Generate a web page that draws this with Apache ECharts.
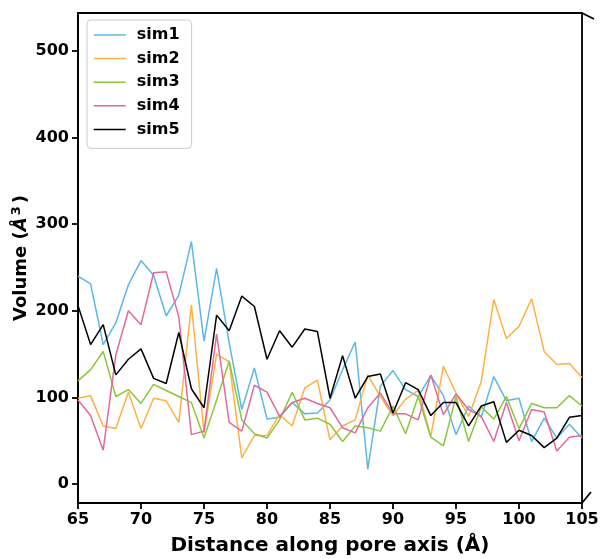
<!DOCTYPE html>
<html>
<head>
<meta charset="utf-8">
<script src="https://cdn.jsdelivr.net/npm/echarts@6/dist/echarts.min.js"></script>
<style>
  html, body { margin: 0; padding: 0; background: #ffffff; }
  #chart { width: 602px; height: 559px; }
</style>
</head>
<body>
<div id="chart"></div>
<script>
// Position along the pore axis (Å)
const distance = [65, 66, 67, 68, 69, 70, 71, 72, 73, 74, 75, 76, 77, 78, 79, 80, 81, 82, 83, 84,
                  85, 86, 87, 88, 89, 90, 91, 92, 93, 94, 95, 96, 97, 98, 99, 100, 101, 102, 103, 104, 105];

// Pore volume per slice (Å^3) for each simulation
const sim1 = [240, 231, 161, 186, 230, 258, 241, 194, 218, 280, 165, 249, 163, 86, 134, 75, 77, 94, 81, 82,
              97, 132, 164, 17, 113, 131, 109, 101, 125, 102, 57, 90, 77, 124, 96, 99, 49, 76, 53, 69, 53];
const sim2 = [99, 102, 67, 64, 106, 64, 99, 96, 71, 207, 59, 150, 141, 30, 56, 56, 80, 67, 111, 120,
              51, 67, 74, 126, 101, 79, 98, 108, 55, 136, 105, 78, 118, 213, 168, 182, 214, 153, 138, 139, 123];
const sim3 = [119, 132, 153, 101, 109, 93, 115, 108, 101, 94, 53, 97, 142, 74, 58, 53, 74, 106, 74, 76,
              69, 49, 67, 65, 61, 90, 58, 101, 54, 44, 101, 49, 89, 75, 101, 64, 93, 88, 88, 102, 90];
const sim4 = [97, 79, 39, 149, 200, 184, 244, 245, 193, 57, 61, 173, 71, 61, 114, 106, 78, 94, 99, 93,
              88, 65, 59, 88, 105, 81, 81, 74, 126, 80, 104, 86, 78, 49, 94, 50, 86, 83, 38, 54, 56];
const sim5 = [206, 161, 184, 126, 144, 156, 122, 116, 175, 110, 88, 195, 177, 217, 205, 144, 177, 158, 179, 176,
              99, 148, 99, 124, 127, 82, 117, 109, 79, 94, 94, 67, 90, 95, 48, 62, 56, 42, 53, 77, 79];

const seriesNames = ['sim1', 'sim2', 'sim3', 'sim4', 'sim5'];
const seriesValues = [sim1, sim2, sim3, sim4, sim5];
const seriesColors = ['#5DB7E6', '#FDB142', '#8CC63F', '#E2699A', '#000000'];

// Axis ticks
const xTicks = { min: 65, max: 105, step: 5 };
const yTickValues = [0, 100, 200, 300, 400, 500];
const yRange = [-22, 544];

const FONT = 'DejaVu Sans';
const chart = echarts.init(document.getElementById('chart'), null, { renderer: 'canvas' });

const series = seriesNames.map((name, i) => ({
  name: name,
  type: 'line',
  data: distance.map((d, j) => [d, seriesValues[i][j]]),
  symbol: 'none',
  showSymbol: false,
  lineStyle: { width: 1.5, color: seriesColors[i] },
  itemStyle: { color: seriesColors[i] },
  z: 2 + i
}));

chart.setOption({
  animation: false,
  backgroundColor: '#ffffff',
  grid: {
    left: 78, right: 20, top: 13, bottom: 56,
    outerBoundsMode: 'none',
    containLabel: false,
    show: true, borderColor: '#000000', borderWidth: 1.8, backgroundColor: 'transparent'
  },
  legend: {
    show: true,
    orient: 'vertical',
    left: 87, top: 20,
    data: seriesNames,
    backgroundColor: 'rgba(255,255,255,0.8)',
    borderColor: '#cccccc', borderWidth: 1, borderRadius: 4,
    padding: [7, 12, 11, 6],
    itemWidth: 32, itemHeight: 14, itemGap: 7.6,
    itemStyle: { opacity: 0 },
    lineStyle: { width: 1.5 },
    textStyle: { fontFamily: FONT, fontWeight: 'bold', fontSize: 16, color: '#000000', padding: [0, 0, 0, 6] }
  },
  xAxis: {
    type: 'value',
    min: xTicks.min, max: xTicks.max, interval: xTicks.step,
    name: 'Distance along pore axis (Å)',
    nameLocation: 'middle', nameGap: 33,
    nameMoveOverlap: false,
    nameTextStyle: { fontFamily: FONT, fontWeight: 'bold', fontSize: 20, color: '#000000' },
    axisLine: { show: true, onZero: false, lineStyle: { color: '#000000', width: 1.8 } },
    axisTick: { show: true, length: 6, lineStyle: { color: '#000000', width: 1.8 } },
    axisLabel: { fontFamily: FONT, fontWeight: 'bold', fontSize: 16, color: '#000000', margin: 9 },
    splitLine: { show: false }
  },
  yAxis: {
    type: 'value',
    min: yRange[0], max: yRange[1],
    name: '{t|Volume (}{a|Å}{s|3}{t|)}',
    nameLocation: 'middle', nameGap: 46,
    nameMoveOverlap: false,
    nameTextStyle: {
      fontFamily: FONT, fontWeight: 'bold', fontSize: 18, color: '#000000',
      rich: {
        t: { fontFamily: FONT, fontWeight: 'bold', fontSize: 18, color: '#000000' },
        a: { fontFamily: FONT, fontWeight: 'bold', fontStyle: 'italic', fontSize: 18, color: '#000000', padding: [0, 2, 0, 0] },
        s: { fontFamily: FONT, fontWeight: 'bold', fontSize: 13, color: '#000000', padding: [0, 3, 9, 0] }
      }
    },
    axisLine: { show: true, onZero: false, lineStyle: { color: '#000000', width: 1.8 } },
    axisTick: { show: true, length: 6, customValues: yTickValues, lineStyle: { color: '#000000', width: 1.8 } },
    axisLabel: { customValues: yTickValues, fontFamily: FONT, fontWeight: 'bold', fontSize: 16, color: '#000000', margin: 9 },
    splitLine: { show: false }
  },
  series: series
});

// Broken-axis marks on the right spine
const topRight = chart.convertToPixel({ gridIndex: 0 }, [xTicks.max, yRange[1]]);
const bottomRight = chart.convertToPixel({ gridIndex: 0 }, [xTicks.max, yRange[0]]);
chart.setOption({
  graphic: [
    { type: 'line', shape: { x1: topRight[0], y1: topRight[1], x2: topRight[0] + 12, y2: topRight[1] + 6 },
      style: { stroke: '#000000', lineWidth: 1.8 }, z: 10 },
    { type: 'line', shape: { x1: bottomRight[0], y1: bottomRight[1], x2: bottomRight[0] + 9, y2: bottomRight[1] - 11 },
      style: { stroke: '#000000', lineWidth: 1.8 }, z: 10 }
  ]
});
</script>
</body>
</html>
